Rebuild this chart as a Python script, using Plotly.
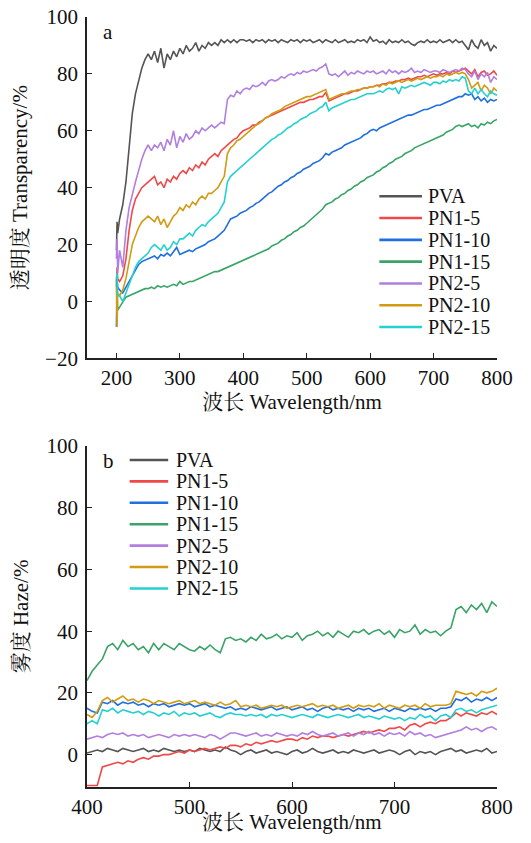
import plotly.graph_objects as go

# ---------------- data ----------------
series_names = ["PVA", "PN1-5", "PN1-10", "PN1-15", "PN2-5", "PN2-10", "PN2-15"]
series_colors = ["#555555", "#f04848", "#1f6fe0", "#3aa468", "#b07fe0", "#d19c14", "#25d0d0"]

# (a) transparency
wl_a = [200, 201, 202] + list(range(205, 801, 5))

trans_pva = [18, 28, 24,
 29, 34, 42, 54, 66, 73, 78, 82, 85, 87,
 85, 88, 84, 89, 82, 87, 85, 88, 86, 89,
 87, 90, 88, 89, 91, 88, 90, 89, 91, 90,
 91, 90, 92, 91, 92, 91, 92, 91, 92, 92,
 91.5, 92, 91, 92, 91.5, 92, 91, 92, 91.5, 92,
 91, 92, 91.5, 91, 92, 91.5, 92, 91, 92, 91.5,
 92, 91, 91.5, 92, 91, 92, 91.5, 91, 92, 91,
 91.5, 92, 91, 91.5, 91, 92, 91.5, 92, 91, 93,
 91.5, 92, 91, 91.5, 90.5, 92, 91, 91.5, 91, 92,
 91, 91.5, 90.5, 90, 91, 91.5, 91, 92, 91, 91.5,
 91, 92, 91, 91.5, 92, 91, 92, 91, 91.5, 90,
 88.5, 92, 90, 89, 92, 90, 91, 88, 90, 89]

trans_pn1_5 = [5, 12, 8,
 7, 9, 15, 25, 32, 36, 38, 40, 41, 42,
 43, 44, 41, 42, 40, 43, 42, 44, 43, 45,
 46, 45, 47, 46, 48, 47, 49, 48, 50, 51,
 52, 51, 53, 54, 55, 56, 57, 57.5, 59, 60,
 60.5, 61, 62, 62, 63, 63.5, 64.5, 65, 65.5, 66,
 66.5, 67, 67.5, 68, 68.5, 69, 69.5, 70, 70, 70.5,
 71, 71, 71.5, 72, 72, 73.5, 70.5, 71, 71.5, 72,
 72.5, 73, 73, 73.5, 74, 74, 74.5, 75, 75, 75.5,
 75.5, 76, 76, 76.5, 76.5, 77, 77, 77.5, 77.5, 78,
 78, 78.5, 78, 78.5, 79, 79, 79.5, 79, 79.5, 80,
 79.5, 80, 80, 80.5, 80, 81, 80.5, 81, 81.5, 82,
 81, 80, 81.5, 79, 80.5, 81, 79.5, 80, 81, 79.5]

trans_pn1_10 = [-9, 8, 5,
 4, 3, 5, 7, 9, 11, 13, 14, 14.5, 15,
 15.5, 16, 15, 16.5, 16, 17, 16, 17.5, 19, 16.5,
 17, 17.5, 18, 17.5, 18.5, 19, 19.5, 20, 21, 21.5,
 22, 23, 24, 25, 27, 29, 29.5, 30, 31, 31.5,
 32, 33, 33.5, 34.5, 35, 36, 37, 38, 38.5, 39.5,
 40.5, 41, 42, 42.5, 43.5, 44, 45, 45.5, 46.5, 47,
 47.5, 48.5, 49, 49.5, 50.5, 52, 51.5, 52.5, 53, 53.5,
 54, 55, 55.5, 56, 56.5, 57, 57.5, 58.5, 59, 60,
 60.5, 60, 61, 61.5, 62, 62.5, 63, 63.5, 64, 64.5,
 65, 65.5, 65.5, 66, 66.5, 67, 67.5, 67.5, 68, 68.5,
 69, 69, 69.5, 70, 70.5, 71, 71.5, 72, 72, 73,
 72.5, 73, 71, 72, 70.5, 71.5, 70, 71, 70.5, 71]

trans_pn1_15 = [8, 3, -3,
 -2, 0, 1.5, 2, 2.5, 3, 3.5, 4, 4.5, 4.5,
 5, 4.5, 5.5, 5, 5.5, 5, 5.5, 6, 5.5, 7,
 6, 6.5, 7, 7, 7.5, 8, 8.5, 9, 9.5, 10,
 10.5, 10.5, 11, 11.5, 12, 12.5, 13, 13.5, 14, 14.5,
 15, 15.5, 16, 16.5, 17, 17.5, 18, 18.5, 19.5, 20,
 20.5, 21.5, 22, 23, 23.5, 24.5, 25, 26, 26.5, 27.5,
 28.5, 29.5, 30.5, 31.5, 32.5, 34, 34.5, 35, 36, 36.5,
 37.5, 38, 39, 39.5, 40.5, 41, 42, 42.5, 43.5, 44,
 44.5, 45.5, 46, 47, 47.5, 48.5, 49, 50, 50.5, 51,
 52, 52.5, 53, 54, 54.5, 55, 55.5, 56, 56.5, 57,
 57.5, 58, 58.5, 59.5, 60, 60.5, 61.5, 62, 61.5, 62,
 62.5, 61.5, 62, 61, 62.5, 62, 63, 62.5, 63.5, 64]

trans_pn2_5 = [15, 22, 10,
 18, 12, 25, 33, 38, 42, 46, 50, 53, 55,
 53, 55, 54, 56, 53, 57, 55, 60, 54, 58,
 56, 59, 57, 58, 60, 59, 61, 60, 61, 62,
 61, 62, 63, 62.5, 71, 72.5, 72, 74, 73, 74.5,
 75, 74.5, 76, 75.5, 76, 77, 76, 77.5, 78, 77.5,
 78, 79, 78.5, 79.5, 80, 79.5, 80.5, 80, 81, 80.5,
 81, 81.5, 81, 82, 82.5, 83.5, 80, 79.5, 80, 79,
 80, 81, 79.5, 80.5, 80, 81, 80.5, 80, 81, 80.5,
 81, 80, 80.5, 81, 80, 81.5, 80.5, 81, 80, 81,
 80.5, 81, 82, 80.5, 81, 80.5, 81.5, 81, 80.5, 81,
 81, 80.5, 81.5, 81, 80.5, 81, 81.5, 81, 82, 81.5,
 80, 79, 81, 78, 80, 79, 80.5, 77, 79, 78]

trans_pn2_10 = [5, -9, 3,
 2, 4, 8, 14, 20, 23, 26, 28, 29, 30,
 29, 28, 30, 27, 29, 26, 28, 30, 31, 33,
 32, 34, 33, 35, 34, 36, 37, 36, 38, 38,
 39, 40, 42, 44, 52, 54, 55, 56.5, 57, 58,
 59, 60, 61, 62, 62.5, 63.5, 64.5, 65, 66, 66.5,
 67, 67.5, 68.5, 69, 69.5, 70, 70.5, 71, 71.5, 72,
 72, 72.5, 73, 73.5, 74, 74.5, 71, 71.5, 72, 72.5,
 73, 73, 73.5, 74, 74, 74.5, 74.5, 75, 75, 75.5,
 75.5, 76, 75.5, 76.5, 76, 77, 76.5, 77, 77.5, 77,
 77.5, 78, 77.5, 78, 78.5, 78, 78.5, 79, 78.5, 79,
 79, 79.5, 79, 80, 79.5, 80, 80.5, 80, 80.5, 80,
 78, 75, 76, 77, 74, 76, 75, 73, 75, 74]

trans_pn2_15 = [8, 10, 2,
 2, 0, 3, 6, 9, 12, 14, 15, 16, 17,
 19, 20, 19, 18, 20, 18, 19, 21, 20, 22,
 22, 23, 24, 23, 25, 26, 27, 26.5, 28, 29,
 30, 31, 33, 35, 42, 44, 45, 46, 47, 48,
 49, 50, 51, 52, 53, 54, 55, 56, 57, 57.5,
 58.5, 59, 60, 61, 61.5, 62.5, 63, 64, 64.5, 65,
 66, 66.5, 67, 68, 68.5, 70, 67, 68, 68.5, 69,
 69.5, 70, 70.5, 71, 71, 71.5, 72, 72.5, 73, 73,
 73, 73.5, 74, 73.5, 74.5, 75, 74.5, 75, 73, 75.5,
 75, 75.5, 76, 75.5, 76, 76.5, 77, 76.5, 76, 77,
 77, 76.5, 77.5, 77, 78, 77.5, 78, 77.5, 79, 78.5,
 74, 73, 75, 73, 74.5, 73, 72, 74, 73, 72.5]

# (b) haze
wl_b = list(range(400, 801, 5))

haze_pva = [0.5, 1, 1.5, 1, 2, 1.5, 1, 2, 1.5, 1,
 1.5, 2, 1, 1.5, 1, 2, 1.5, 1, 1.5, 1,
 1.5, 1, 2, 1.5, 1, 1.5, 1, 2.5, 1.5, 1,
 0, 1, 1.5, 0.5, 1, 1.5, 0.5, 1, 0.5, 0,
 1, 1.5, 0.5, 1, 2, 1, 0.5, 1, 1.5, 0.5,
 1, 0.5, 1.5, 1, 0.5, 1, 1.5, 0.5, 1, 1.5,
 1, 0, 1, 1.5, 0, 1, 0.5, 1, 0, 1,
 1.5, 2, 1, 1.5, 0.5, 1, 1.5, 1, 2, 0.5,
 1]

haze_pn1_5 = [-10, -10, -10, -4, -3.5, -3, -2.5, -3, -2, -2.5,
 -1.5, -1, -1.5, -0.5, -0.5, 0, 0, 0.5, 1, 0.5,
 1.5, 1, 1.5, 2, 1.5, 2, 2.5, 2, 3, 3,
 2.5, 3.5, 3, 4, 3.5, 4, 4.5, 4, 4.5, 5,
 5, 4.5, 5.5, 5, 6, 5.5, 6, 6, 5.5, 6,
 6.5, 6, 6.5, 7, 7.5, 7, 7.5, 8, 7.5, 8.5,
 8.5, 9, 8, 9.5, 10, 9, 10, 10.5, 10, 11,
 11, 12, 13.5, 12.5, 13.5, 13, 12.5, 13.5, 13, 14,
 13]

haze_pn1_10 = [15, 14, 13.5, 17, 16.5, 17.5, 16, 17, 16.5, 17,
 16, 16.5, 15.5, 16.5, 16, 16.5, 15.5, 16, 16.5, 16,
 16.5, 15.5, 16, 16.5, 15.5, 16, 15.5, 15, 15.5, 14.5,
 15, 14.5, 15.5, 15, 14.5, 15, 15.5, 14.5, 15, 15.5,
 14.5, 15, 15.5, 14.5, 15, 14, 15, 15.5, 14.5, 15,
 14.5, 15, 14, 15, 14.5, 15, 14, 14.5, 15, 14,
 15, 14.5, 14, 15, 14.5, 15, 14.5, 15, 14, 15,
 15, 15.5, 18, 17.5, 18.5, 17, 18, 17.5, 18.5, 17.5,
 18.5]

haze_pn1_15 = [24, 27, 29, 31, 35, 36, 34, 37, 35, 36,
 34, 35, 33, 36, 34, 36, 35, 34, 36, 35,
 34, 33.5, 35, 34, 35.5, 34, 33, 37.5, 38, 37,
 37.5, 36.5, 38, 37, 39, 37.5, 38, 39, 37.5, 38.5,
 38, 39.5, 37, 38.5, 39, 40, 38.5, 39.5, 38, 40,
 39, 38, 40, 39.5, 40.5, 39, 40, 40.5, 39, 40,
 38, 40.5, 39.5, 40, 42, 39, 40.5, 39.5, 40, 38.5,
 40, 41, 47, 48, 46, 48.5, 47, 49, 46, 49.5,
 48]

haze_pn2_5 = [5, 5.5, 6, 5.5, 6.5, 7, 6.5, 7, 6, 6.5,
 6, 6.5, 5.5, 6, 6.5, 6, 5.5, 6.5, 6, 6.5,
 6, 6.5, 6, 5.5, 6.5, 6, 5, 6, 7, 7,
 6.5, 6, 6.5, 7, 6, 6.5, 6, 7, 6.5, 6,
 6.5, 6, 7, 6.5, 7.5, 6.5, 6, 6.5, 7, 6,
 6.5, 7, 6, 7, 6.5, 7.5, 6.5, 7, 6, 7,
 6.5, 7, 6, 7.5, 6.5, 7, 6, 6.5, 5.5, 6,
 6.5, 7, 7.5, 8, 9, 8, 8.5, 7.5, 8.5, 9,
 8]

haze_pn2_10 = [13, 12, 14, 17.5, 18.5, 17, 18, 19, 17.5, 18,
 17, 18, 17.5, 16.5, 17.5, 17, 16.5, 17, 17.5, 16.5,
 17, 17.5, 16.5, 17, 16.5, 16, 17, 16, 16.5, 17.5,
 15.5, 16, 15.5, 16, 15, 15.5, 16, 15.5, 16, 15,
 15.5, 16, 15.5, 16, 16.5, 15.5, 16, 15.5, 16, 15,
 15.5, 16, 15, 16, 15.5, 16, 15.5, 16.5, 15, 16,
 15.5, 15, 16, 15.5, 16, 15, 16.5, 15.5, 16, 16,
 16, 16.5, 20.5, 20, 19.5, 20, 19, 20.5, 20, 20.5,
 21.5]

haze_pn2_15 = [10, 11, 10, 14.5, 14, 15, 13.5, 14.5, 14, 13.5,
 14, 13, 14, 13.5, 12.5, 13.5, 13, 14, 12.5, 13.5,
 13, 13.5, 12.5, 13, 13.5, 12.5, 12, 13, 13.5, 13,
 13, 12.5, 13, 12.5, 13, 12, 13, 12.5, 13, 12.5,
 12, 12.5, 13, 12.5, 12, 13, 12.5, 12, 12.5, 13,
 12.5, 12, 12.5, 13, 12, 12.5, 12, 11.5, 12.5, 12,
 11.5, 12, 11, 12, 11.5, 13, 12, 12.5, 11, 12.5,
 13, 12, 14.5, 15, 14, 14.5, 13.5, 14.5, 15, 15.5,
 16]

trans_series = [trans_pva, trans_pn1_5, trans_pn1_10, trans_pn1_15,
                trans_pn2_5, trans_pn2_10, trans_pn2_15]
haze_series = [haze_pva, haze_pn1_5, haze_pn1_10, haze_pn1_15,
               haze_pn2_5, haze_pn2_10, haze_pn2_15]

xticks_a = [200, 300, 400, 500, 600, 700, 800]
yticks_a = [-20, 0, 20, 40, 60, 80, 100]
xticks_b = [400, 500, 600, 700, 800]
yticks_b = [0, 20, 40, 60, 80, 100]

# ---------------- figure ----------------
FONT = "Liberation Serif, Times New Roman, Noto Serif CJK SC, Noto Sans CJK SC, serif"
FS = 21
FS_LEG = 20

fig = go.Figure()
for name, color, ys in zip(series_names, series_colors, trans_series):
    fig.add_trace(go.Scatter(x=wl_a, y=ys, mode="lines", name=name,
                             line=dict(color=color, width=1.6),
                             xaxis="x", yaxis="y", showlegend=False))
for name, color, ys in zip(series_names, series_colors, haze_series):
    fig.add_trace(go.Scatter(x=wl_b, y=ys, mode="lines", name=name,
                             line=dict(color=color, width=1.6),
                             xaxis="x2", yaxis="y2", showlegend=False))

axis_common = dict(showline=True, linecolor="#222222", linewidth=1.8,
                   ticks="inside", ticklen=5, tickwidth=1.3, tickcolor="#222222",
                   showgrid=False, zeroline=False, mirror=False, automargin=False,
                   ticklabeloverflow="allow",
                   tickfont=dict(family=FONT, size=FS, color="#111111"))

fig.update_layout(
    width=531, height=843,
    margin=dict(l=87, r=34, t=17, b=56, autoexpand=False),
    paper_bgcolor="white", plot_bgcolor="white",
    font=dict(family=FONT, size=FS, color="#111111"),
    showlegend=False,
    xaxis=dict(domain=[0, 1], range=[153.6, 800], tickvals=xticks_a, anchor="y",
               ticklabelstandoff=0,
               title=dict(text="波长 Wavelength/nm", font=dict(family=FONT, size=FS), standoff=4),
               **axis_common),
    yaxis=dict(domain=[0.5567, 1], range=[-20, 100], tickvals=yticks_a, anchor="x",
               ticklabelstandoff=3,
               title=dict(text="透明度 Transparency/%", font=dict(family=FONT, size=FS), standoff=12),
               **axis_common),
    xaxis2=dict(domain=[0, 1], range=[400, 800], tickvals=xticks_b, anchor="y2",
                ticklabelstandoff=0,
                **axis_common),
    yaxis2=dict(domain=[0, 0.4429], range=[-10.5, 100], tickvals=yticks_b, anchor="x2",
                ticklabelstandoff=3,
                title=dict(text="雾度 Haze/%", font=dict(family=FONT, size=FS), standoff=12),
                **axis_common),
)

# bottom x-axis title (set close to the tick labels, as in the original)
fig.add_annotation(text="波长 Wavelength/nm", xref="x2 domain", yref="paper",
                   x=0.5, y=-0.0455, xanchor="center", yanchor="middle",
                   showarrow=False, font=dict(family=FONT, size=FS))

# panel labels
fig.add_annotation(text="a", xref="x domain", yref="y domain", x=0.033, y=0.955,
                   xanchor="left", yanchor="middle", showarrow=False,
                   font=dict(family=FONT, size=FS))
fig.add_annotation(text="b", xref="x2 domain", yref="y2 domain", x=0.033, y=0.955,
                   xanchor="left", yanchor="middle", showarrow=False,
                   font=dict(family=FONT, size=FS))

# manual legends (line swatch + label)
def add_legend(xref, yref, x0, x1, xt, ytop, dy):
    for i, (name, color) in enumerate(zip(series_names, series_colors)):
        yy = ytop - i * dy
        fig.add_shape(type="line", xref=xref, yref=yref, x0=x0, x1=x1, y0=yy, y1=yy,
                      line=dict(color=color, width=2.6))
        fig.add_annotation(text=name, xref=xref, yref=yref, x=xt, y=yy,
                           xanchor="left", yanchor="middle", showarrow=False,
                           font=dict(family=FONT, size=FS_LEG, color="#111111"))

add_legend("x domain", "y domain", 0.713, 0.817, 0.826, 0.475, 0.0639)
add_legend("x2 domain", "y2 domain", 0.104, 0.198, 0.212, 0.959, 0.0628)

# remove the default page margin so the figure fills the window exactly
fig.write_html("out.html", config={"displayModeBar": False},
               post_script="document.body.style.margin='0';document.body.style.overflow='hidden';")
